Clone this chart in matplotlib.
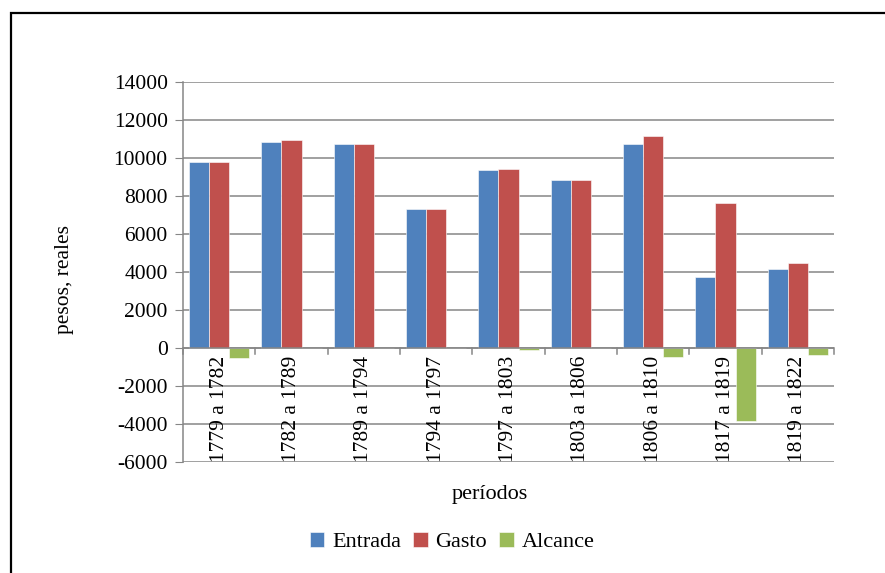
import matplotlib.pyplot as plt
import numpy as np
from matplotlib.patches import Rectangle

# datos
periodos = ["1779 a 1782", "1782 a 1789", "1789 a 1794", "1794 a 1797", "1797 a 1803",
            "1803 a 1806", "1806 a 1810", "1817 a 1819", "1819 a 1822"]
entrada = [9770, 10850, 10760, 7290, 9370, 8860, 10760, 3750, 4150]
gasto = [9770, 10940, 10760, 7290, 9440, 8860, 11170, 7620, 4480]
alcance = [-545, -20, -10, 0, -100, 0, -455, -3840, -367]
yticks = [-6000, -4000, -2000, 0, 2000, 4000, 6000, 8000, 10000, 12000, 14000]

plt.rcParams['font.family'] = ['Liberation Serif', 'DejaVu Serif']
fs = 15.5

W, H = 885, 573
fig = plt.figure(figsize=(W / 100, H / 100), dpi=100)
ax = fig.add_axes([183 / W, 1 - 462 / H, (834 - 183) / W, (462 - 82) / H])

x = np.arange(len(periodos))
bw = 0.277
ax.bar(x - bw, entrada, bw, color="#4F81BD", label="Entrada", edgecolor="white", linewidth=0.4, zorder=3)
ax.bar(x, gasto, bw, color="#C0504D", label="Gasto", edgecolor="white", linewidth=0.4, zorder=3)
ax.bar(x + bw, alcance, bw, color="#9BBB59", label="Alcance", edgecolor="white", linewidth=0.4, zorder=3)

ax.set_xlim(-0.5, len(periodos) - 0.5)
ax.set_ylim(-6000, 14000)
ax.set_yticks(yticks)
ax.set_yticklabels([str(v) for v in yticks], fontsize=fs)
ax.yaxis.grid(True, color="#868686", linewidth=1.1, zorder=0)
ax.tick_params(axis="y", length=6, color="#868686", pad=5)

# eje x en cero con marcas entre categorías
ax.set_xticks([])
ax.axhline(0, color="#868686", linewidth=1.1, zorder=4)
for b in np.arange(-0.5, len(periodos), 1.0):
    ax.plot([b, b], [0, -300], color="#868686", linewidth=1.1, zorder=4, clip_on=False)
for i, lab in enumerate(periodos):
    ax.text(i, -420, lab, rotation=90, ha="center", va="top", fontsize=fs)

for s in ["top", "right", "bottom"]:
    ax.spines[s].set_visible(False)
ax.spines["left"].set_color("#868686")
ax.spines["left"].set_linewidth(1.1)

fig.text(64 / W, 1 - 279 / H, "pesos, reales", rotation=90, ha="center", va="center", fontsize=fs)
fig.text(490 / W, 1 - 494 / H, "períodos", ha="center", va="center", fontsize=16)

fig.legend(loc="center", bbox_to_anchor=(452 / W, 1 - 542 / H), ncol=3, frameon=False,
           fontsize=16, handlelength=0.65, handleheight=0.65, handletextpad=0.35, columnspacing=0.55)

fig.patches.append(Rectangle((11 / W, -0.05), 1.0, 1 - 13 / H + 0.05, transform=fig.transFigure,
                             fill=False, edgecolor="black", linewidth=1.6))

fig.savefig("out.png", dpi=100)
